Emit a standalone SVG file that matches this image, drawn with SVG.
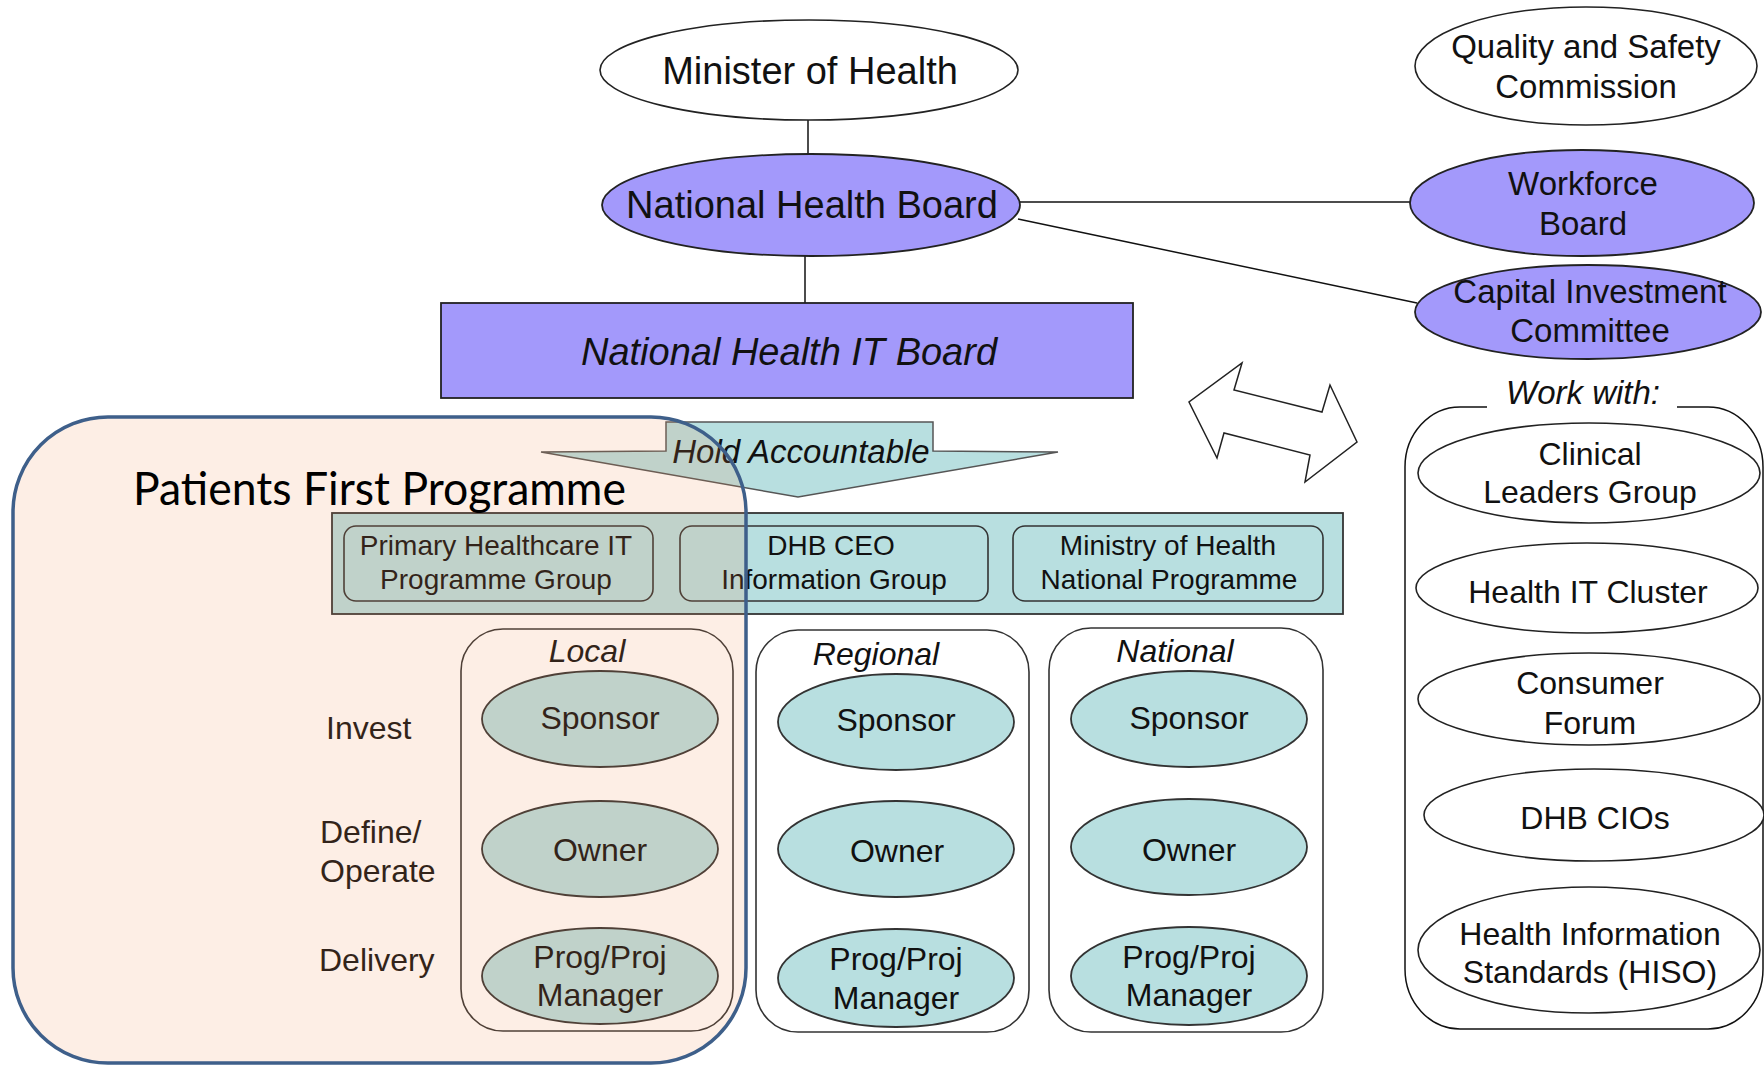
<svg xmlns="http://www.w3.org/2000/svg" width="1764" height="1065" viewBox="0 0 1764 1065">
<style>
text{font-family:"Liberation Sans",Arial,sans-serif;fill:#111;text-anchor:middle}
.t38{font-size:38px}
.t33{font-size:33px}
.t32{font-size:32px}
.t28{font-size:28px}
.it{font-style:italic}
.lft{text-anchor:start}
.w{fill:#fff;stroke:#222;stroke-width:1.6}
.p{fill:#a399fb;stroke:#222;stroke-width:1.8}
.tl{fill:#b8dfe0;stroke:#333;stroke-width:1.8}
.box{fill:none;stroke:#333;stroke-width:1.6}
.ln{stroke:#111;stroke-width:1.5;fill:none}
</style>
<rect width="1764" height="1065" fill="#fff"/>

<g id="connectors">
<line class="ln" x1="808" y1="120" x2="808" y2="155"/>
<line class="ln" x1="805" y1="256" x2="805" y2="303"/>
<line class="ln" x1="1020" y1="202" x2="1411" y2="202" stroke-width="2"/>
<line class="ln" x1="1018" y1="219" x2="1417" y2="303" stroke-width="2"/>
</g>

<g id="minister">
<ellipse class="w" cx="809" cy="70" rx="209" ry="50"/>
<text class="t38" x="810" y="84">Minister of Health</text>
</g>
<g id="qsc">
<ellipse class="w" cx="1586" cy="66" rx="171" ry="59"/>
<text class="t33" x="1586" y="58">Quality and Safety</text>
<text class="t33" x="1586" y="98">Commission</text>
</g>
<g id="nhb">
<ellipse class="p" cx="811" cy="205" rx="209" ry="51"/>
<text class="t38" x="812" y="218">National Health Board</text>
</g>
<g id="workforce">
<ellipse class="p" cx="1582" cy="203" rx="172" ry="53"/>
<text class="t33" x="1583" y="195">Workforce</text>
<text class="t33" x="1583" y="235">Board</text>
</g>
<g id="capital">
<ellipse class="p" cx="1588" cy="312" rx="173" ry="47"/>
<text class="t33" x="1590" y="303">Capital Investment</text>
<text class="t33" x="1590" y="342">Committee</text>
</g>
<g id="nhitb">
<rect class="p" x="441" y="303" width="692" height="95" stroke-width="2.2"/>
<text class="t38 it" x="789" y="365">National Health IT Board</text>
</g>

<g id="hold-accountable">
<polygon points="666,422 933,422 933,451 1058,452 798,497 541,452 666,451" fill="#b8dfe0" stroke="#555" stroke-width="1.5"/>
<text class="t33 it" x="801" y="463">Hold Accountable</text>
</g>

<g id="double-arrow">
<polygon points="1242,363 1234,390 1322,412 1330,385 1357,442 1305,482 1310,455 1224,433 1217,458 1189,402" fill="#fff" stroke="#222" stroke-width="1.5" stroke-linejoin="miter"/>
</g>

<g id="groups-band">
<rect class="tl" x="332" y="513" width="1011" height="101"/>
<g id="phit">
<rect class="box" x="344" y="526" width="309" height="75" rx="12"/>
<text class="t28" x="496" y="555">Primary Healthcare IT</text>
<text class="t28" x="496" y="589">Programme Group</text>
</g>
<g id="dhbceo">
<rect class="box" x="680" y="526" width="308" height="75" rx="12"/>
<text class="t28" x="831" y="555">DHB CEO</text>
<text class="t28" x="834" y="589">Information Group</text>
</g>
<g id="moh">
<rect class="box" x="1013" y="526" width="310" height="75" rx="12"/>
<text class="t28" x="1168" y="555">Ministry of Health</text>
<text class="t28" x="1169" y="589">National Programme</text>
</g>
</g>

<g id="local">
<rect class="box" x="461" y="629" width="272" height="402" rx="42"/>
<text class="t32 it" x="587" y="662">Local</text>
<ellipse class="tl" cx="600" cy="719" rx="118" ry="48"/>
<text class="t32" x="600" y="729">Sponsor</text>
<ellipse class="tl" cx="600" cy="849" rx="118" ry="48"/>
<text class="t32" x="600" y="861">Owner</text>
<ellipse class="tl" cx="600" cy="976" rx="118" ry="48"/>
<text class="t32" x="600" y="968">Prog/Proj</text>
<text class="t32" x="600" y="1006">Manager</text>
</g>
<g id="regional">
<rect class="box" x="756" y="630" width="273" height="402" rx="42"/>
<text class="t32 it" x="876" y="665">Regional</text>
<ellipse class="tl" cx="896" cy="722" rx="118" ry="48"/>
<text class="t32" x="896" y="731">Sponsor</text>
<ellipse class="tl" cx="896" cy="849" rx="118" ry="48"/>
<text class="t32" x="897" y="862">Owner</text>
<ellipse class="tl" cx="896" cy="978" rx="118" ry="49"/>
<text class="t32" x="896" y="970">Prog/Proj</text>
<text class="t32" x="896" y="1009">Manager</text>
</g>
<g id="national">
<rect class="box" x="1049" y="628" width="274" height="404" rx="42"/>
<text class="t32 it" x="1175" y="662">National</text>
<ellipse class="tl" cx="1189" cy="719" rx="118" ry="48"/>
<text class="t32" x="1189" y="729">Sponsor</text>
<ellipse class="tl" cx="1189" cy="847" rx="118" ry="48"/>
<text class="t32" x="1189" y="861">Owner</text>
<ellipse class="tl" cx="1189" cy="976" rx="118" ry="49"/>
<text class="t32" x="1189" y="968">Prog/Proj</text>
<text class="t32" x="1189" y="1006">Manager</text>
</g>

<g id="row-labels">
<text class="t32 lft" x="326" y="739">Invest</text>
<text class="t32 lft" x="320" y="843">Define/</text>
<text class="t32 lft" x="320" y="882">Operate</text>
<text class="t32 lft" x="319" y="971">Delivery</text>
</g>

<g id="work-with">
<path class="ln" d="M1487,407 H1460 A55,60 0 0 0 1405,467 V969 A55,60 0 0 0 1460,1029 H1708 A55,60 0 0 0 1763,969 V467 A55,60 0 0 0 1708,407 H1677"/>
<text class="t33 it" x="1583" y="404">Work with:</text>
<g id="clg">
<ellipse class="w" cx="1589" cy="473" rx="171" ry="50"/>
<text class="t32" x="1590" y="465">Clinical</text>
<text class="t32" x="1590" y="503">Leaders Group</text>
</g>
<g id="hitc">
<ellipse class="w" cx="1587" cy="588" rx="171" ry="45"/>
<text class="t32" x="1588" y="603">Health IT Cluster</text>
</g>
<g id="cf">
<ellipse class="w" cx="1589" cy="699" rx="171" ry="46"/>
<text class="t32" x="1590" y="694">Consumer</text>
<text class="t32" x="1590" y="734">Forum</text>
</g>
<g id="cios">
<ellipse class="w" cx="1594" cy="815" rx="170" ry="46"/>
<text class="t32" x="1595" y="829">DHB CIOs</text>
</g>
<g id="hiso">
<ellipse class="w" cx="1589" cy="950" rx="171" ry="63"/>
<text class="t32" x="1590" y="945">Health Information</text>
<text class="t32" x="1590" y="983">Standards (HISO)</text>
</g>
</g>

<g id="patients-first">
<rect x="13" y="417" width="733" height="646" rx="95" fill="#f28c4e" fill-opacity="0.15" stroke="#3e5f8a" stroke-width="3.5"/>
<text x="133" y="505" textLength="493" lengthAdjust="spacingAndGlyphs" style="font-family:Lato,'Open Sans',sans-serif;font-size:46px;text-anchor:start;fill:#000">Patients First Programme</text>
</g>
</svg>
